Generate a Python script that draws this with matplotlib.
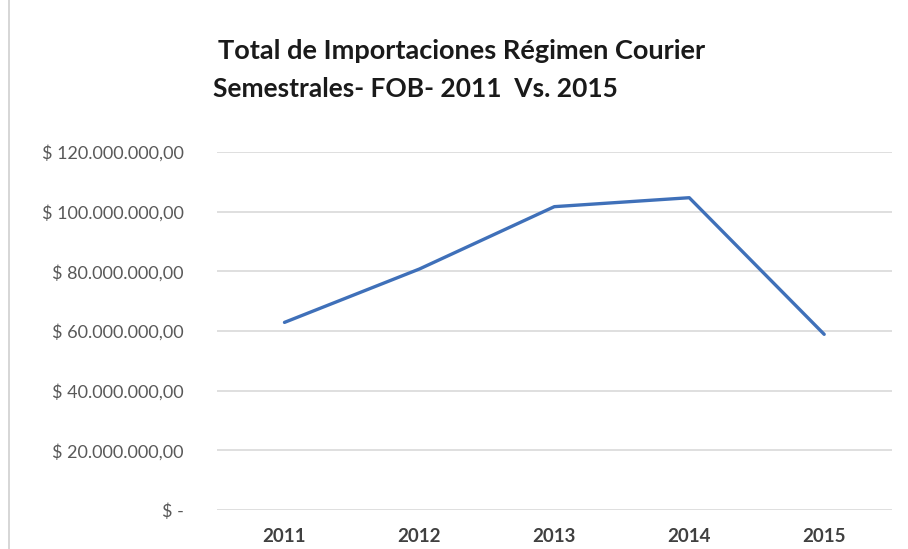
import matplotlib.pyplot as plt
from matplotlib.lines import Line2D

years = ['2011', '2012', '2013', '2014', '2015']
fob_total = [62.9e6, 80.8e6, 101.7e6, 104.7e6, 58.9e6]
y_ticks = [0, 20e6, 40e6, 60e6, 80e6, 100e6, 120e6]
y_labels = ['$ -', '$ 20.000.000,00', '$ 40.000.000,00', '$ 60.000.000,00',
            '$ 80.000.000,00', '$ 100.000.000,00', '$ 120.000.000,00']

plt.rcParams['font.family'] = ['Lato', 'DejaVu Sans']

fig = plt.figure(figsize=(9.08, 5.49), dpi=100)
ax = fig.add_axes([0.239, 0.071, 0.743, 0.652])

x = list(range(len(years)))
ax.plot(x, fob_total, color='#3F70B9', linewidth=2.4, solid_capstyle='round')

ax.set_xlim(-0.5, 4.5)
ax.set_ylim(0, 120e6)
ax.set_yticks(y_ticks)
ax.set_yticklabels(y_labels, fontsize=13, color='#595959')
ax.set_xticks(x)
ax.set_xticklabels(years, fontsize=13.5, fontweight='bold', color='#404040')
ax.tick_params(axis='both', length=0)
ax.tick_params(axis='y', pad=24)
ax.tick_params(axis='x', pad=13)
ax.grid(axis='y', color='#D9D9D9', linewidth=1.2)
ax.set_axisbelow(True)
for s in ax.spines.values():
    s.set_visible(False)

# titulo
fig.text(0.240, 0.907, 'Total de Importaciones Régimen Courier',
         fontsize=19.5, fontweight='bold', color='#1a1a1a', ha='left', va='center')
fig.text(0.235, 0.838, 'Semestrales- FOB- 2011  Vs. 2015',
         fontsize=19, fontweight='bold', color='#1a1a1a', ha='left', va='center')

# borde del grafico
fig.add_artist(Line2D([0.010, 0.010], [0.0, 1.0], color='#D0D0D0', linewidth=1.2))

fig.savefig('out.png', dpi=100)
